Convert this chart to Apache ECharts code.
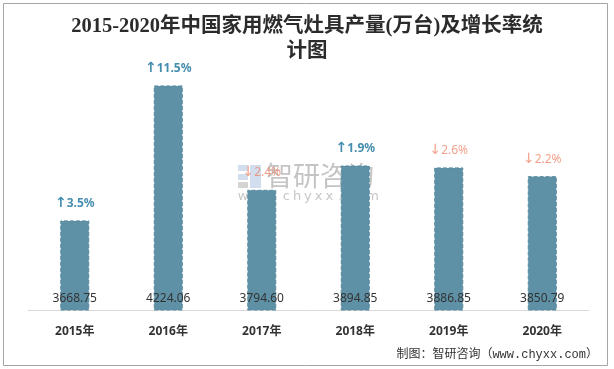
<!DOCTYPE html>
<html>
<head>
<meta charset="utf-8">
<script src="https://cdn.jsdelivr.net/npm/echarts@6/dist/echarts.min.js"></script>
<style>html,body{margin:0;padding:0;background:#fff}#c{width:614px;height:369px}</style>
</head>
<body>
<div id="c"></div>
<script>
const years = ['2015年', '2016年', '2017年', '2018年', '2019年', '2020年'];
const output = [3668.75, 4224.06, 3794.60, 3894.85, 3886.85, 3850.79];
const growth = [3.5, 11.5, -2.4, 1.9, -2.6, -2.2];
const titleText = '2015-2020年中国家用燃气灶具产量(万台)及增长率统\n计图';
const sourceText = '制图：智研咨询（www.chyxx.com）';
const watermarkName = '智研咨询';
const watermarkUrl = 'www.chyxx.com';

const chart = echarts.init(document.getElementById('c'), null, {renderer: 'canvas'});
const upColor = '#17709a';
const downColor = '#f08a6e';

const urlChars = watermarkUrl.split('').map((ch, i) => ({
  type: 'text',
  style: {x: 243 + i * 10.8, y: 197, text: ch, fontSize: 13, fontFamily: '"DejaVu Sans",sans-serif', fill: 'rgba(160,160,160,0.6)', align: 'center', verticalAlign: 'middle'}
}));

chart.setOption({
  animation: false,
  backgroundColor: '#fff',
  title: {
    text: titleText,
    left: 'center',
    top: 9,
    textStyle: {
      fontFamily: '"Liberation Serif","Noto Sans CJK SC",serif',
      fontSize: 20.5,
      fontWeight: 'bold',
      color: '#2b2b2b',
      lineHeight: 25
    }
  },
  grid: {left: 28, right: 25, top: 67, bottom: 59},
  xAxis: {
    type: 'category',
    data: years,
    axisLine: {lineStyle: {color: '#d9d9d9', width: 1}},
    axisTick: {show: false},
    axisLabel: {
      margin: 16,
      fontSize: 12,
      fontWeight: 'bold',
      color: '#333',
      fontFamily: '"Noto Sans","Noto Sans CJK SC",sans-serif'
    }
  },
  yAxis: {
    type: 'value',
    min: 3300,
    max: 4300,
    show: false
  },
  series: [
    {
      type: 'bar',
      data: output,
      barWidth: 29,
      itemStyle: {color: '#5e90a6', borderColor: '#57899f', borderWidth: 1, borderType: 'dashed'},
      label: {
        show: true,
        position: 'insideBottom',
        distance: 6,
        fontSize: 12,
        color: '#333',
        fontFamily: '"Noto Sans",sans-serif',
        formatter: p => p.value.toFixed(2)
      }
    },
    {
      type: 'scatter',
      data: output,
      symbolSize: 0,
      silent: true,
      label: {
        show: true,
        position: 'top',
        distance: 10,
        fontSize: 12,
        fontFamily: '"Noto Sans",sans-serif',
        formatter: p => {
          const g = growth[p.dataIndex];
          return g >= 0 ? '{ua|↑}{u|' + g.toFixed(1) + '%}' : '{da|↓}{d|' + Math.abs(g).toFixed(1) + '%}';
        },
        rich: {
          ua: {color: upColor, fontSize: 14, fontFamily: '"DejaVu Sans",sans-serif', fontWeight: 'bold'},
          u: {color: upColor, fontWeight: 'bold', fontSize: 12, fontFamily: '"Noto Sans",sans-serif'},
          da: {color: downColor, fontSize: 14, fontFamily: '"DejaVu Sans",sans-serif'},
          d: {color: downColor, fontSize: 12, fontFamily: '"Noto Sans",sans-serif'}
        }
      }
    }
  ],
  graphic: [
    {type: 'rect', shape: {x: 3.5, y: 3.5, width: 604, height: 362}, style: {fill: 'none', stroke: '#a6a6a6', lineWidth: 1}, silent: true, z: 100},
    {type: 'group', silent: true, z: 50, children: [
      {type: 'rect', shape: {x: 238, y: 165, width: 10, height: 6}, style: {fill: 'rgba(180,200,225,0.6)'}},
      {type: 'rect', shape: {x: 238, y: 174, width: 10, height: 6}, style: {fill: 'rgba(180,200,225,0.6)'}},
      {type: 'rect', shape: {x: 238, y: 182, width: 10, height: 6}, style: {fill: 'rgba(170,170,170,0.5)'}},
      {type: 'rect', shape: {x: 250, y: 165, width: 11, height: 23}, style: {fill: 'rgba(180,200,225,0.6)'}},
      {type: 'text', style: {x: 266, y: 176, text: watermarkName, fontSize: 27, fontFamily: '"Noto Sans CJK SC",sans-serif', fill: 'rgba(165,165,165,0.65)', verticalAlign: 'middle', align: 'left'}}
    ].concat(urlChars)},
    {type: 'text', silent: true, z: 60, style: {x: 598, y: 355, text: sourceText, fontSize: 12, fontFamily: '"Liberation Mono","Noto Sans CJK SC",monospace', fill: '#333', align: 'right', verticalAlign: 'middle'}}
  ]
});
</script>
</body>
</html>
